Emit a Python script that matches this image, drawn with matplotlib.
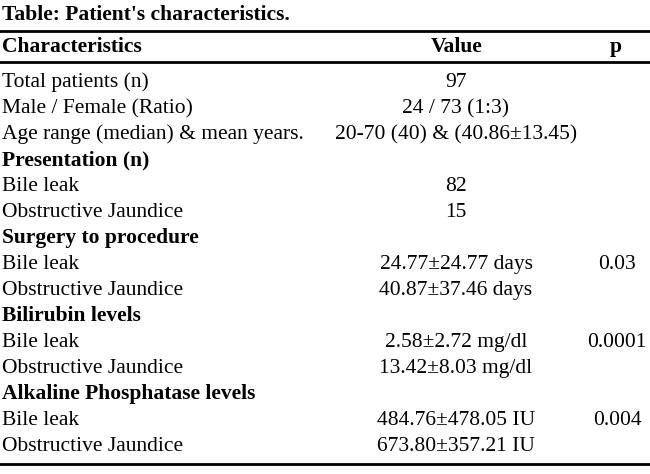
import matplotlib
matplotlib.use("Agg")
import matplotlib.pyplot as plt
from matplotlib.lines import Line2D

title = "Table: Patient's characteristics."
columns = ["Characteristics", "Value", "p"]
row_labels = [
    "Total patients (n)",
    "Male / Female (Ratio)",
    "Age range (median) & mean years.",
    "Presentation (n)",
    "Bile leak",
    "Obstructive Jaundice",
    "Surgery to procedure",
    "Bile leak",
    "Obstructive Jaundice",
    "Bilirubin levels",
    "Bile leak",
    "Obstructive Jaundice",
    "Alkaline Phosphatase levels",
    "Bile leak",
    "Obstructive Jaundice",
]
row_values = [
    "97", "24 / 73 (1:3)", "20-70 (40) & (40.86±13.45)",
    "", "82", "15",
    "", "24.77±24.77 days", "40.87±37.46 days",
    "", "2.58±2.72 mg/dl", "13.42±8.03 mg/dl",
    "", "484.76±478.05 IU", "673.80±357.21 IU",
]
row_p = [
    "", "", "",
    "", "", "",
    "", "0.03", "",
    "", "0.0001", "",
    "", "0.004", "",
]
section_rows = [3, 6, 9, 12]


def main():
    W, H = 650, 474
    fig = plt.figure(figsize=(W / 100, H / 100), dpi=100)
    plt.rcParams["font.family"] = ["Liberation Serif", "DejaVu Serif"]
    fs = 15.5
    base = 6  # pixels from row centre down to the text baseline

    def px(x, y):
        return x / W, 1 - y / H

    def hline(y, lw):
        fig.add_artist(Line2D([0, 1], [1 - y / H, 1 - y / H], color="black",
                              lw=lw, transform=fig.transFigure))

    fig.text(*px(2, 14 + base), title, fontsize=fs, fontweight="bold",
             va="baseline")
    hline(31, 2.0)
    fig.text(*px(2, 46 + base), columns[0], fontsize=fs, fontweight="bold",
             va="baseline")
    fig.text(*px(457, 46 + base), columns[1], fontsize=fs, fontweight="bold",
             va="baseline", ha="center")
    fig.text(*px(616, 46 + base), columns[2], fontsize=fs, fontweight="bold",
             va="baseline", ha="center")
    hline(62, 2.0)

    y0, dy = 81, 26.0
    for i, lab in enumerate(row_labels):
        y = y0 + i * dy + base
        bold = "bold" if i in section_rows else "normal"
        fig.text(*px(2, y), lab, fontsize=fs, fontweight=bold, va="baseline")
        if row_values[i]:
            fig.text(*px(456, y), row_values[i], fontsize=fs, va="baseline",
                     ha="center")
        if row_p[i]:
            fig.text(*px(617, y), row_p[i], fontsize=fs, va="baseline",
                     ha="center")
    hline(464, 2.0)

    fig.savefig("out.png", dpi=100)


if __name__ == "__main__":
    main()
